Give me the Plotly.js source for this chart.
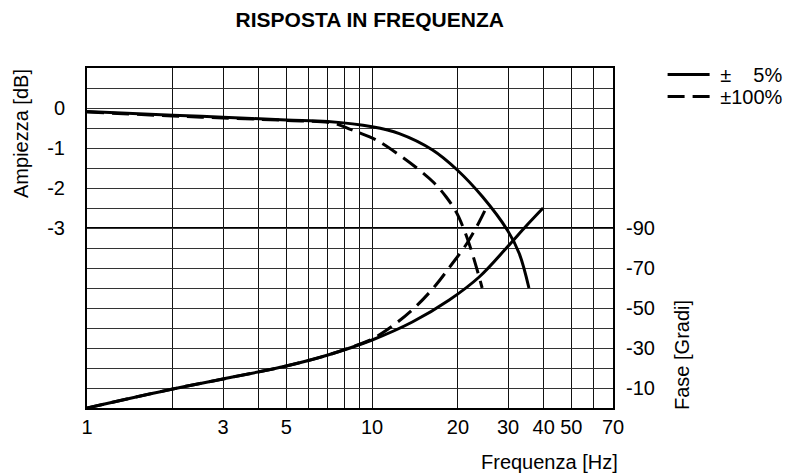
<!DOCTYPE html>
<html>
<head>
<meta charset="utf-8">
<script src="https://cdn.plot.ly/plotly-3.0.1.min.js"></script>
<style>
  html, body { margin: 0; padding: 0; background: #fff; }
  #chart { width: 790px; height: 476px; }
</style>
</head>
<body>
<div id="chart"></div>
<script>
// ---- data ----
// Amplitude (dB) vs frequency (Hz)
const ampFreq5   = [1, 2, 3, 5, 7, 10, 12.46, 16.3, 19.9, 24.4, 29.8, 32.8, 35.5];
const ampDb5     = [-0.09, -0.18, -0.23, -0.3, -0.34, -0.47, -0.64, -1.05, -1.55, -2.22, -3.05, -3.63, -4.5];
const ampFreq100 = [1, 2, 3, 5, 7.3, 8.3, 8.88, 10.35, 12.46, 14.64, 16.52, 18.2, 19.73, 21.04, 22.27, 23.37, 24.33];
const ampDb100   = [-0.1, -0.2, -0.25, -0.31, -0.38, -0.52, -0.6, -0.8, -1.175, -1.55, -1.875, -2.225, -2.6, -3.05, -3.55, -4.05, -4.5];
// Phase (degrees) vs frequency (Hz)
const phFreq5    = [1, 2, 3, 5, 7, 10, 13.84, 18.65, 23.75, 29.8, 34.7, 39.8];
const phDeg5     = [0, -9.5, -14.5, -21, -26.5, -34, -43, -54, -65.5, -80.5, -91, -100];
const phFreq100  = [1, 2, 3, 5, 7, 8.46, 10, 11.78, 14.06, 16.52, 18.95, 21.56, 23.75, 25.12];
const phDeg100   = [0, -9.5, -14.5, -21, -26.5, -30.5, -34.5, -41, -50, -60.5, -71.5, -82.5, -93, -100];

const seriesNames = ['\u00a0\u00b1\u00a0\u00a0\u00a0\u00a05%', '\u00a0\u00b1100%'];

// ticks
const xTickVals  = [1, 2, 3, 4, 5, 6, 7, 8, 9, 10, 20, 30, 40, 50, 60, 70];
const xTickText  = ['1', '', '3', '', '5', '', '', '', '', '10', '20', '30', '40', '50', '', '70'];
const yTickVals  = [1, 0.5, 0, -0.5, -1, -1.5, -2, -2.5, -3, -3.5, -4, -4.5, -5, -5.5, -6, -6.5, -7, -7.5];
const yTickText  = ['', '', '0', '', '-1', '', '-2', '', '-3', '', '', '', '', '', '', '', '', ''];
const y2TickVals = [-90, -70, -50, -30, -10];
const y2TickText = ['-90', '-70', '-50', '-30', '-10'];

const FONT = 'Liberation Sans, Arial, sans-serif';
const LW = 3;
const DASH = '17px,8px';

const traces = [
  { x: ampFreq5, y: ampDb5, name: seriesNames[0], mode: 'lines', line: { color: '#000', width: LW, shape: 'spline' }, xaxis: 'x', yaxis: 'y', legend: 'legend' },
  { x: ampFreq100, y: ampDb100, name: seriesNames[1], mode: 'lines', line: { color: '#000', width: LW, dash: DASH, shape: 'spline' }, xaxis: 'x', yaxis: 'y', legend: 'legend2' },
  { x: phFreq5, y: phDeg5, name: 'fase ' + seriesNames[0], mode: 'lines', line: { color: '#000', width: LW, shape: 'spline' }, xaxis: 'x', yaxis: 'y2', showlegend: false },
  { x: phFreq100, y: phDeg100, name: 'fase ' + seriesNames[1], mode: 'lines', line: { color: '#000', width: LW, dash: DASH, shape: 'spline' }, xaxis: 'x', yaxis: 'y2', showlegend: false }
];

const legendBase = { xanchor: 'left', yanchor: 'top', bgcolor: 'rgba(0,0,0,0)',
                     font: { family: FONT, size: 20, color: '#000' }, itemwidth: 42 };

const layout = {
  width: 790, height: 476,
  margin: { l: 87, r: 177, t: 68, b: 68, autoexpand: false },
  paper_bgcolor: '#fff', plot_bgcolor: '#fff',
  font: { family: FONT, size: 20, color: '#000' },
  title: { text: '<b>RISPOSTA IN FREQUENZA</b>', font: { family: FONT, size: 21, color: '#000' },
           xref: 'container', x: 0.468, xanchor: 'center', yref: 'container', y: 0.958, yanchor: 'middle' },
  showlegend: true,
  legend: Object.assign({}, legendBase, { x: 1.0943, y: 1.0382 }),
  legend2: Object.assign({}, legendBase, { x: 1.0943, y: 0.9735 }),
  xaxis: {
    type: 'log', range: [0, Math.log10(70)],
    tickvals: xTickVals, ticktext: xTickText, ticks: '',
    showgrid: true, gridcolor: '#111', gridwidth: 1,
    showline: true, linecolor: '#000', linewidth: 2, mirror: true,
    zeroline: false, ticklabelstandoff: 0,
    tickfont: { family: FONT, size: 20, color: '#000' }
  },
  yaxis: {
    range: [-7.5, 1],
    tickvals: yTickVals, ticktext: yTickText, ticks: '',
    showgrid: true, gridcolor: '#333', gridwidth: 1,
    showline: true, linecolor: '#000', linewidth: 2, mirror: true,
    zeroline: false, ticklabelstandoff: 16,
    tickfont: { family: FONT, size: 20, color: '#000' }
  },
  yaxis2: {
    overlaying: 'y', side: 'right', range: [0, -170],
    tickvals: y2TickVals, ticktext: y2TickText, ticks: '',
    showgrid: false, zeroline: false, showline: false, ticklabelstandoff: 12,
    tickfont: { family: FONT, size: 20, color: '#000' }
  },
  shapes: [
    { type: 'line', xref: 'paper', x0: 0, x1: 1, yref: 'y', y0: -3, y1: -3, line: { color: '#000', width: 2 }, layer: 'below' }
  ],
  annotations: [
    { text: 'Ampiezza [dB]', textangle: -90, xref: 'paper', yref: 'paper', x: -0.1255, y: 0.8088, xanchor: 'center', yanchor: 'middle', showarrow: false, font: { family: FONT, size: 20, color: '#000' } },
    { text: 'Fase [Gradi]', textangle: -90, xref: 'paper', yref: 'paper', x: 1.1312, y: 0.1559, xanchor: 'center', yanchor: 'middle', showarrow: false, font: { family: FONT, size: 20, color: '#000' } },
    { text: 'Frequenza [Hz]', xref: 'paper', yref: 'paper', x: 0.8799, y: -0.1588, xanchor: 'center', yanchor: 'middle', showarrow: false, font: { family: FONT, size: 20, color: '#000' } }
  ]
};

Plotly.newPlot('chart', traces, layout, { displayModeBar: false, staticPlot: true });
</script>
</body>
</html>
